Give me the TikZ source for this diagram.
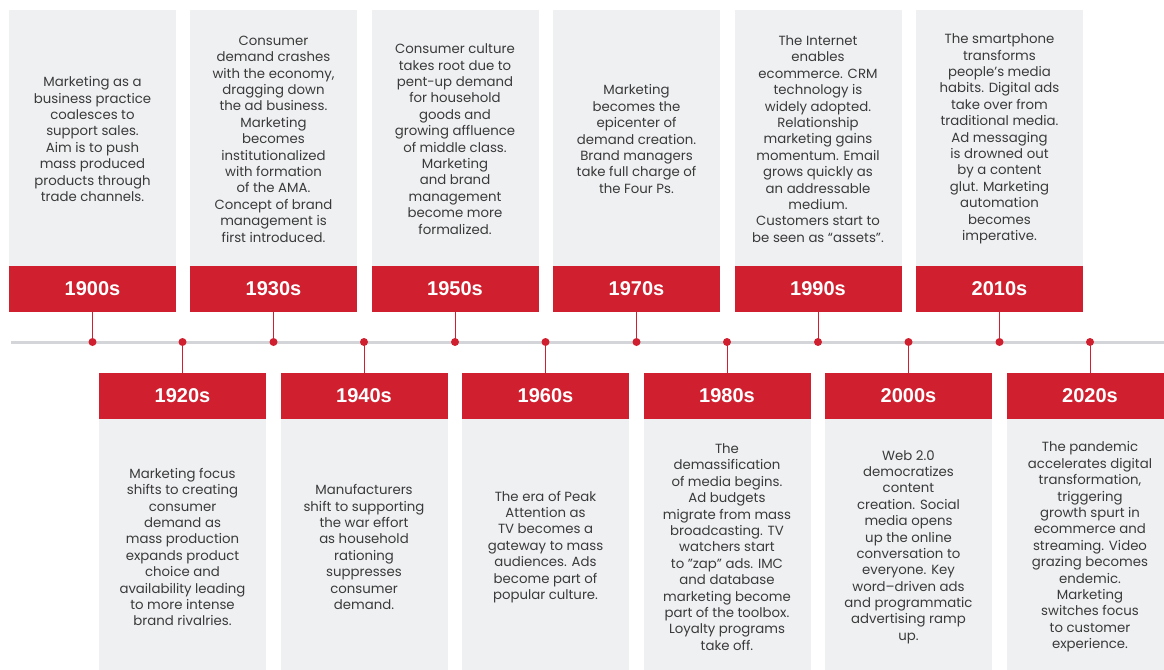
\documentclass[tikz,border=0pt]{standalone}
\usepackage{fontspec}
\setmainfont{Poppins}
\newfontfamily\yearfont{Liberation Sans}

\definecolor{brandred}{HTML}{D0202F}
\definecolor{cardgray}{HTML}{EFF0F2}
\definecolor{axisgray}{HTML}{D4D5D8}
\definecolor{bodytext}{HTML}{3A3A3A}

\tikzset{
  card/.style={fill=cardgray, draw=none, inner sep=0pt,
    minimum width=167pt, minimum height=256pt},
  yearbar/.style={fill=brandred, draw=none, inner sep=0pt, text=white,
    minimum width=167pt, minimum height=46pt,
    font=\yearfont\bfseries\fontsize{20}{20}\selectfont},
  blurb/.style={align=center, inner sep=0pt, text=bodytext,
    font=\fontsize{13.3}{16.4}\selectfont},
  dot/.style={circle, fill=brandred, draw=none, inner sep=0pt, minimum size=8pt},
  link/.style={draw=brandred, line width=1pt},
  axis/.style={draw=axisgray, line width=3pt}
}

\begin{document}
\begin{tikzpicture}[x=1pt, y=-1pt]
\useasboundingbox (0,0) rectangle (1164,669);
\clip (0,0) rectangle (1164,669);

% ---------- timeline axis ----------
\coordinate (axisL) at (11,342);
\coordinate (axisR) at (1164,342);
\draw[axis] (axisL) -- (axisR);

% ---------- upper row: 1900s 1930s 1950s 1970s 1990s 2010s ----------
\node[card] (c1900) at (92.5,138) {};
\node[yearbar] (y1900) at (92.5,289) {1900s};
\node[blurb] (t1900) at (92.5,139) {Marketing as a\\business practice\\coalesces to\\support sales.\\Aim is to push\\mass produced\\products through\\trade channels.};

\node[card] (c1930) at (273.5,138) {};
\node[yearbar] (y1930) at (273.5,289) {1930s};
\node[blurb] (t1930) at (273.5,139) {Consumer\\demand crashes\\with the economy,\\dragging down\\the ad business.\\Marketing\\becomes\\institutionalized\\with formation\\of the AMA.\\Concept of brand\\management is\\first introduced.};

\node[card] (c1950) at (455,138) {};
\node[yearbar] (y1950) at (455,289) {1950s};
\node[blurb] (t1950) at (455,139) {Consumer culture\\takes root due to\\pent-up demand\\for household\\goods and\\growing affluence\\of middle class.\\Marketing\\and brand\\management\\become more\\formalized.};

\node[card] (c1970) at (636.5,138) {};
\node[yearbar] (y1970) at (636.5,289) {1970s};
\node[blurb] (t1970) at (636.5,139) {Marketing\\becomes the\\epicenter of\\demand creation.\\Brand managers\\take full charge of\\the Four Ps.};

\node[card] (c1990) at (818,138) {};
\node[yearbar] (y1990) at (818,289) {1990s};
\node[blurb] (t1990) at (818,139) {The Internet\\enables\\ecommerce. CRM\\technology is\\widely adopted.\\Relationship\\marketing gains\\momentum. Email\\grows quickly as\\an addressable\\medium.\\Customers start to\\be seen as “assets”.};

\node[card] (c2010) at (999.5,138) {};
\node[yearbar] (y2010) at (999.5,289) {2010s};
\node[blurb] (t2010) at (999.5,139) {The smartphone\\transforms\\people’s media\\habits. Digital ads\\take over from\\traditional media.\\Ad messaging\\is drowned out\\by a content\\glut. Marketing\\automation\\becomes\\imperative.};

% ---------- lower row: 1920s 1940s 1960s 1980s 2000s 2020s ----------
\node[card] (c1920) at (182.5,547) {};
\node[yearbar] (y1920) at (182.5,396) {1920s};
\node[blurb] (t1920) at (182.5,547) {Marketing focus\\shifts to creating\\consumer\\demand as\\mass production\\expands product\\choice and\\availability leading\\to more intense\\brand rivalries.};

\node[card] (c1940) at (364,547) {};
\node[yearbar] (y1940) at (364,396) {1940s};
\node[blurb] (t1940) at (364,547) {Manufacturers\\shift to supporting\\the war effort\\as household\\rationing\\suppresses\\consumer\\demand.};

\node[card] (c1960) at (545.5,547) {};
\node[yearbar] (y1960) at (545.5,396) {1960s};
\node[blurb] (t1960) at (545.5,547) {The era of Peak\\Attention as\\TV becomes a\\gateway to mass\\audiences. Ads\\become part of\\popular culture.};

\node[card] (c1980) at (727,547) {};
\node[yearbar] (y1980) at (727,396) {1980s};
\node[blurb] (t1980) at (727,547) {The\\demassification\\of media begins.\\Ad budgets\\migrate from mass\\broadcasting. TV\\watchers start\\to "zap" ads. IMC\\and database\\marketing become\\part of the toolbox.\\Loyalty programs\\take off.};

\node[card] (c2000) at (908.5,547) {};
\node[yearbar] (y2000) at (908.5,396) {2000s};
\node[blurb] (t2000) at (908.5,547) {Web 2.0\\democratizes\\content\\creation. Social\\media opens\\up the online\\conversation to\\everyone. Key\\word–driven ads\\and programmatic\\advertising ramp\\up.};

\node[card] (c2020) at (1090,547) {};
\node[yearbar] (y2020) at (1090,396) {2020s};
\node[blurb] (t2020) at (1090,547) {The pandemic\\accelerates digital\\transformation,\\triggering\\growth spurt in\\ecommerce and\\streaming. Video\\grazing becomes\\endemic.\\Marketing\\switches focus\\to customer\\experience.};

% ---------- markers on the axis and their ties to the year bars ----------
\foreach \yr/\x in {1900/92.5, 1920/182.5, 1930/273.5, 1940/364, 1950/455, 1960/545.5,
                    1970/636.5, 1980/727, 1990/818, 2000/908.5, 2010/999.5, 2020/1090}
  \node[dot] (d\yr) at (\x,342) {};

\foreach \yr in {1900,1930,1950,1970,1990,2010}
  \draw[link] (y\yr.south) -- (d\yr.center);
\foreach \yr in {1920,1940,1960,1980,2000,2020}
  \draw[link] (y\yr.north) -- (d\yr.center);
\end{tikzpicture}
\end{document}
